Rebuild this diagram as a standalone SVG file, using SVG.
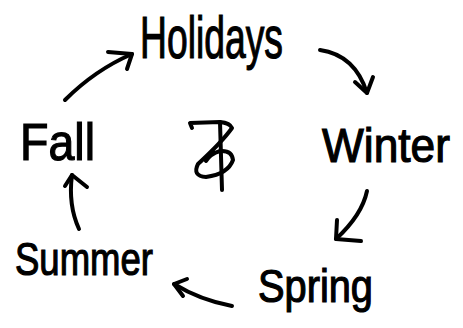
<svg xmlns="http://www.w3.org/2000/svg" width="463" height="328" viewBox="0 0 463 328">
<style>
.t{font-family:"Liberation Sans",Arial,sans-serif;fill:#000;stroke:#000;stroke-width:1.2;}
.c{fill:none;stroke:#000;stroke-width:4;stroke-linecap:round;stroke-linejoin:round;}
</style>
<rect width="463" height="328" fill="#fff"/>
<g id="holidays"><text class="t" x="140" y="58" font-size="60" textLength="143" lengthAdjust="spacingAndGlyphs">Holidays</text></g>
<g id="winter"><text class="t" x="322" y="162" font-size="48" textLength="128" lengthAdjust="spacingAndGlyphs">Winter</text></g>
<g id="spring"><text class="t" x="258" y="302" font-size="46" textLength="115" lengthAdjust="spacingAndGlyphs">Spring</text></g>
<g id="summer"><text class="t" x="15" y="275" font-size="46" textLength="138" lengthAdjust="spacingAndGlyphs">Summer</text></g>
<g id="fall"><text class="t" x="20" y="160" font-size="52" textLength="75" lengthAdjust="spacingAndGlyphs">Fall</text></g>
<g id="symbol">
<path class="c" d="M192,128 L190,123 L220,122 Q230,123 232,128 Q222,142 198,164 Q192,176 206,177 Q228,174 233,160 Q232,150 220,151 Q210,154 206,161"/>
<path class="c" d="M220,122 L222,190"/>
</g>
<g id="connectors">
<path class="c" d="M65,100 Q95,70 132,54"/>
<path class="c" d="M108,52 L132,54 L127,69"/>
<path class="c" d="M320,50 Q355,55 367,93"/>
<path class="c" d="M355,82 L367,93 L373,77"/>
<path class="c" d="M367,191 Q362,215 336,239"/>
<path class="c" d="M337,220 L336,239 L361,241"/>
<path class="c" d="M232,306 Q200,300 174,284"/>
<path class="c" d="M187,279 L174,284 L183,296"/>
<path class="c" d="M79,229 Q68,205 72,175"/>
<path class="c" d="M65,186 L72,175 L87,187"/>
</g>
</svg>
